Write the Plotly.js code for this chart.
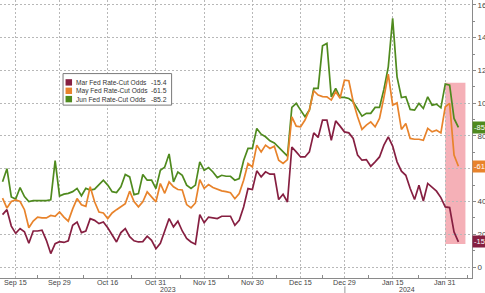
<!DOCTYPE html>
<html>
<head>
<meta charset="utf-8">
<script src="https://cdn.plot.ly/plotly-3.0.1.min.js"></script>
<style>html,body{margin:0;padding:0;background:#fff;}#chart{width:485px;height:293px;}</style>
</head>
<body>
<div id="chart"></div>
<script>
// Business days shown on the axis (Sep 12 2023 - Feb 5 2024)
const dates = [
 "2023-09-12","2023-09-13","2023-09-14","2023-09-15","2023-09-18","2023-09-19","2023-09-20","2023-09-21","2023-09-22",
 "2023-09-25","2023-09-26","2023-09-27","2023-09-28","2023-09-29",
 "2023-10-02","2023-10-03","2023-10-04","2023-10-05","2023-10-06","2023-10-09","2023-10-10","2023-10-11","2023-10-12","2023-10-13",
 "2023-10-16","2023-10-17","2023-10-18","2023-10-19","2023-10-20","2023-10-23","2023-10-24","2023-10-25","2023-10-26","2023-10-27",
 "2023-10-30","2023-10-31",
 "2023-11-01","2023-11-02","2023-11-03","2023-11-06","2023-11-07","2023-11-08","2023-11-09","2023-11-10","2023-11-13","2023-11-14",
 "2023-11-15","2023-11-16","2023-11-17","2023-11-20","2023-11-21","2023-11-22","2023-11-23","2023-11-24","2023-11-27","2023-11-28",
 "2023-11-29","2023-11-30",
 "2023-12-01","2023-12-04","2023-12-05","2023-12-06","2023-12-07","2023-12-08","2023-12-11","2023-12-12","2023-12-13","2023-12-14",
 "2023-12-15","2023-12-18","2023-12-19","2023-12-20","2023-12-21","2023-12-22","2023-12-25","2023-12-26","2023-12-27","2023-12-28",
 "2023-12-29",
 "2024-01-01","2024-01-02","2024-01-03","2024-01-04","2024-01-05","2024-01-08","2024-01-09","2024-01-10","2024-01-11","2024-01-12",
 "2024-01-15","2024-01-16","2024-01-17","2024-01-18","2024-01-19","2024-01-22","2024-01-23","2024-01-24","2024-01-25","2024-01-26",
 "2024-01-29","2024-01-30","2024-01-31",
 "2024-02-01","2024-02-02","2024-02-05"
];

const seriesNames = ["Mar Fed Rate-Cut Odds", "May Fed Rate-Cut Odds", "Jun Fed Rate-Cut Odds"];

const marOdds = [
 32, 35, 25, 20.5, 23.5, 21.5, 14.5, 22, 22, 22.5, 16.3, 8.2, 14.3,
 15.5, 15, 16, 25.5, 27.5, 21, 22, 29.5, 28.5, 26.5,
 27.5, 24, 20, 15.3, 21, 23.5, 18.5, 16, 15.3, 15.5,
 18.8, 16.3, 11.2, 14.5, 22, 29.6, 24.5, 28, 22, 17.5,
 15.3, 13.9, 32, 27, 30.5, 30, 29.6, 31, 31, 31,
 25.5, 28.5, 36.7, 47.9, 47.3, 58.7, 55, 58.1, 56.7, 56.7,
 41.2, 44.4, 39.7, 73.3, 70.3, 67.2, 67.2, 70.3, 81.9, 79.1,
 89.7, 89.7, 77.4, 89.2, 86, 82.5, 81.9, 78.5, 68.3, 65.2,
 65.6, 61.5, 64.2, 67.2, 74.4, 79.5, 73.8, 64.2, 58.5, 56,
 47.9, 41.2, 49.9, 40.3, 51, 48.5, 46.3, 42.4, 36.7, 36.3, 21.4, 15.4
];

const mayOdds = [
 42, 36, 40, 41, 40, 35, 24, 28, 30.5, 30, 30, 31.5, 31,
 33.6, 30.5, 28, 35.5, 41.8, 38, 37, 49, 39.8, 33.6,
 33, 29.6, 33, 35, 37, 38.7, 46.3, 40, 36.7, 39.8,
 45.9, 42.8, 39.8, 51, 45, 52, 49, 47.3, 47, 38.1,
 36.1, 39.1, 53.4, 48, 50.3, 48.5, 47.5, 46.5, 46, 45.4,
 41.7, 44.9, 53, 63.2, 61.1, 74.4, 70.3, 74.4, 72.4, 73.8,
 65.2, 63.2, 65.6, 91.7, 86, 85.6, 89.7, 95.8, 107.6, 105,
 104, 103.9, 101.9, 107, 103, 114, 113.7, 100.9, 91.7, 84,
 86.6, 88.6, 85.6, 90.7, 103.5, 117.8, 98.8, 100.2, 84, 87.6,
 78.5, 78, 78, 77.4, 84.6, 82.5, 83.5, 81.9, 97.8, 99.9, 68.3, 61.5
];

const junOdds = [
 52, 60, 42.8, 41.5, 48.5, 43, 40, 40.5, 40.5, 40.5, 40.5, 41, 65,
 43.4, 44.5, 45, 46, 48, 43.5, 48, 47, 47.5, 50,
 53, 50, 46, 45.5, 49, 56.5, 55, 44.2, 44.8, 56.5,
 53, 53, 47.9, 59, 61, 69, 52, 58, 56, 50,
 48, 50, 64.2, 59, 60.7, 58, 54.6, 56, 55.4, 55.4,
 53, 54, 65, 72.4, 72.4, 84.6, 81.1, 79.5, 77, 75.8,
 73.3, 70.3, 67.7, 97.4, 99.9, 95.8, 91.7, 95.8, 109, 109,
 135, 136.5, 103.9, 109, 103.5, 103.5, 102.9, 100.9, 96.8, 92.1,
 93.8, 93.8, 97.4, 97.4, 108.4, 122.2, 151.8, 116.1, 103.5, 104,
 96.2, 95.8, 99.9, 96.8, 103.9, 98.8, 99.4, 97.2, 111.7, 111, 90.7, 85.2
];

const tickDates = ["2023-09-15","2023-09-29","2023-10-16","2023-10-31","2023-11-15","2023-11-30",
                   "2023-12-15","2023-12-29","2024-01-15","2024-01-31"];
const tickLabels = ["Sep 15","Sep 29","Oct 16","Oct 31","Nov 15","Nov 30","Dec 15","Dec 29","Jan 15","Jan 31"];
const yearLabels = ["2023","2024"];

const colors = ["#861f41", "#e8832b", "#4f8a1e"];
const allSeries = [marOdds, mayOdds, junOdds];

const xIdx = dates.map((d, i) => i);
const tickIdx = tickDates.map(d => dates.indexOf(d));
const minorIdx = [];
for (let k = 0; k < tickIdx.length - 1; k++) minorIdx.push((tickIdx[k] + tickIdx[k+1]) / 2);
minorIdx.push(tickIdx[tickIdx.length-1] + 5);

// pixel helpers for decorations (plot area spans px 0..471.7 horizontally, 0..277.7 vertically)
const PW = 471.7, PH = 277.7;
const fx = px => px / PW;
const fy = py => (PH - py) / PH;

const traces = allSeries.map((s, k) => ({
  x: xIdx, y: s, type: 'scatter', mode: 'lines', name: seriesNames[k],
  line: {color: colors[k], width: 1.7}, hoverinfo: 'skip'
}));
const ordered = [traces[2], traces[1], traces[0]];

const fontFam = 'Liberation Sans, Arial, sans-serif';
const shapes = [];
const annotations = [];

// highlighted recent window
shapes.push({type:'rect', xref:'x', yref:'y', layer:'below',
  x0: dates.indexOf("2024-01-31"), x1: dates.length + 0.6, y0: 14, y1: 112.5,
  fillcolor:'rgba(236,98,112,0.5)', line:{width:0}});

// legend box
shapes.push({type:'rect', xref:'paper', yref:'paper', x0:fx(63), x1:fx(171.5), y0:fy(105), y1:fy(73.5),
  fillcolor:'white', line:{color:'#7a7a7a', width:1}});
const rowY = [82.3, 90.7, 99];
allSeries.forEach((s, k) => {
  shapes.push({type:'rect', xref:'paper', yref:'paper', x0:fx(65.5), x1:fx(72), y0:fy(rowY[k]+3.2), y1:fy(rowY[k]-3.2),
    fillcolor: colors[k], line:{width:0}});
  annotations.push({xref:'paper', yref:'paper', x:fx(74.5), y:fy(rowY[k]), xanchor:'left', yanchor:'middle',
    text: seriesNames[k], showarrow:false, borderpad:0, font:{family:fontFam, size:6.6, color:'#333'}});
  const last = s[s.length-1];
  annotations.push({xref:'paper', yref:'paper', x:fx(168), y:fy(rowY[k]), xanchor:'right', yanchor:'middle',
    text: '-' + last.toFixed(1), showarrow:false, borderpad:0, font:{family:fontFam, size:6.8, color:'#333'}});
  annotations.push({xref:'paper', yref:'y', x:1.0, y:last, xanchor:'left', yanchor:'middle',
    text: '-' + last.toFixed(1), showarrow:false, bgcolor: colors[k], borderpad:1,
    font:{family:fontFam, size:7.5, color:'#fff'}});
});

// x tick labels placed tight under the axis line
tickLabels.forEach((t, k) => {
  annotations.push({xref:'x', yref:'paper', x:tickIdx[k], y:fy(281.8), text:t, showarrow:false,
    xanchor:'center', yanchor:'middle', borderpad:0, font:{family:fontFam, size:7.2, color:'#444'}});
});

// year labels and divider
annotations.push({xref:'paper', yref:'paper', x:fx(168), y:fy(289.5), text:yearLabels[0], showarrow:false,
  xanchor:'center', yanchor:'middle', borderpad:0, font:{family:fontFam, size:7, color:'#444'}});
annotations.push({xref:'paper', yref:'paper', x:fx(407), y:fy(289.5), text:yearLabels[1], showarrow:false,
  xanchor:'center', yanchor:'middle', borderpad:0, font:{family:fontFam, size:7, color:'#444'}});
shapes.push({type:'line', xref:'x', yref:'paper', x0: dates.indexOf("2023-12-29")+0.1, x1: dates.indexOf("2023-12-29")+0.1,
  y0: fy(286), y1: fy(293), line:{color:'#999', width:1}});

const layout = {
  width: 485, height: 293,
  margin: {l: 0, r: 13.3, t: 0, b: 15.3, pad: 0},
  paper_bgcolor: '#fff', plot_bgcolor: '#fff',
  showlegend: false,
  font: {family: fontFam, color: '#444'},
  xaxis: {
    range: [-0.58, 107.1], tickmode: 'array', tickvals: tickIdx, ticktext: tickLabels,
    showticklabels: false,
    showgrid: true, gridcolor: '#b8b8b8', griddash: '2px,2px', gridwidth: 1,
    zeroline: false, showline: true, linecolor: '#8a8a8a', linewidth: 1,
    ticks: '',
    minor: {tickmode: 'array', tickvals: minorIdx, ticks: 'inside', ticklen: 3, tickcolor: '#8a8a8a', showgrid: false},
    fixedrange: true
  },
  yaxis: {
    side: 'right', range: [-6.7, 163], tick0: 0, dtick: 20,
    showgrid: true, gridcolor: '#b8b8b8', griddash: '2px,2px', gridwidth: 1,
    zeroline: false, showline: true, linecolor: '#8a8a8a', linewidth: 1,
    ticks: 'outside', ticklen: 3, tickcolor: '#8a8a8a',
    tickfont: {size: 8, color: '#444'},
    minor: {dtick: 10, ticks: 'outside', ticklen: 2, tickcolor: '#8a8a8a', showgrid: false},
    fixedrange: true
  },
  shapes: shapes,
  annotations: annotations
};

Plotly.newPlot('chart', ordered, layout, {displayModeBar: false, staticPlot: true});
</script>
</body>
</html>
